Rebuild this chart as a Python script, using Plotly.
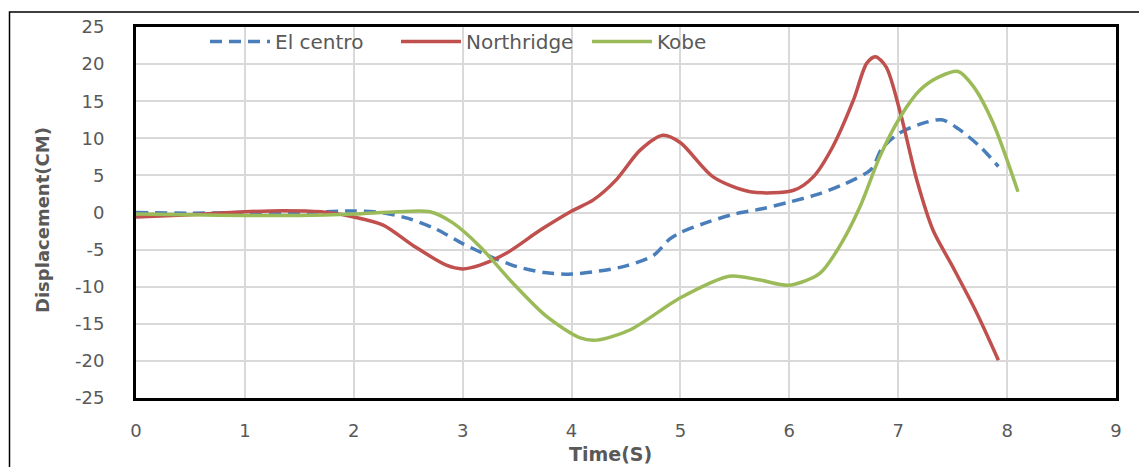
import plotly.graph_objects as go

# ---- data ----
t_elcentro = [0, 0.5, 1.0, 1.5, 2.0, 2.25, 2.5, 2.75, 3.0, 3.25, 3.5, 3.75, 4.0, 4.25, 4.5, 4.75,
              4.9, 5.0, 5.25, 5.5, 5.75, 6.0, 6.25, 6.5, 6.75, 6.85, 7.0, 7.2, 7.4, 7.55, 7.75, 7.92]
d_elcentro = [0, -0.1, 0, 0, 0.2, 0, -0.8, -2.2, -4.2, -5.9, -7.3, -8.1, -8.3, -7.9, -7.2, -5.8,
              -3.6, -2.7, -1.3, -0.2, 0.5, 1.4, 2.4, 3.8, 5.8, 8.6, 10.6, 11.9, 12.5, 11.3, 8.9, 6.2]

t_northridge = [0, 0.5, 1.0, 1.35, 1.7, 2.0, 2.27, 2.54, 2.85, 3.0, 3.16, 3.4, 3.71, 3.99, 4.2, 4.41,
                4.63, 4.84, 5.0, 5.3, 5.64, 6.04, 6.22, 6.4, 6.59, 6.71, 6.79, 6.89, 7.02, 7.17,
                7.32, 7.5, 7.72, 7.92]
d_northridge = [-0.6, -0.3, 0.1, 0.25, 0.1, -0.6, -1.7, -4.4, -7.1, -7.6, -7.1, -5.5, -2.4, 0.1, 1.7, 4.4,
                8.4, 10.4, 9.4, 4.8, 2.8, 3.0, 4.8, 8.9, 15.2, 20.1, 21.0, 19.6, 13.4, 4.4,
                -2.4, -7.3, -13.5, -19.9]

t_kobe = [0, 0.5, 1.0, 1.5, 2.0, 2.4, 2.7, 2.91, 3.16, 3.46, 3.77, 4.08, 4.23, 4.54, 5.0, 5.45,
          5.73, 6.0, 6.28, 6.46, 6.65, 6.83, 7.02, 7.2, 7.38, 7.55, 7.69, 7.87, 8.1]
d_kobe = [-0.2, -0.3, -0.4, -0.4, -0.2, 0.1, 0.1, -1.4, -4.6, -9.5, -14.0, -16.9, -17.2, -15.8, -11.5, -8.6,
          -9.1, -9.8, -8.2, -4.6, 0.8, 7.5, 12.9, 16.5, 18.3, 19.0, 17.0, 12.1, 2.8]

x_ticks = list(range(0, 10))
y_ticks = list(range(-25, 30, 5))
x_ticktext = [str(v) for v in x_ticks]
y_ticktext = [str(v) for v in y_ticks]

FONT = "DejaVu Sans"
GRAY = "#595959"

fig = go.Figure()
fig.add_trace(go.Scatter(x=t_elcentro, y=d_elcentro, mode="lines", name="El centro",
                         line=dict(color="#4a7ebb", width=3.5, dash="12px,7px", shape="spline", smoothing=0.8)))
fig.add_trace(go.Scatter(x=t_northridge, y=d_northridge, mode="lines", name="Northridge",
                         line=dict(color="#c0504d", width=3.5, shape="spline", smoothing=0.8)))
fig.add_trace(go.Scatter(x=t_kobe, y=d_kobe, mode="lines", name="Kobe",
                         line=dict(color="#9bbb59", width=3.5, shape="spline", smoothing=0.8)))

L, R, T, B = 136, 23, 27, 69
W, H = 1139, 467
pw, ph = W - L - R, H - T - B

def px_x(px):
    return (px - L) / pw

def px_y(py):
    return (H - B - py) / ph

fig.update_layout(
    width=W, height=H,
    margin=dict(l=L, r=R, t=T, b=B, pad=0),
    paper_bgcolor="white", plot_bgcolor="white",
    font=dict(family=FONT, color=GRAY, size=17),
    showlegend=True,
    legend=dict(orientation="h", x=px_x(205), y=px_y(22), xanchor="left", yanchor="top",
                bgcolor="rgba(0,0,0,0)", font=dict(size=20, color=GRAY, family=FONT),
                itemwidth=60, tracegroupgap=0, entrywidth=116, entrywidthmode="pixels"),
    xaxis=dict(range=[0, 9], tickvals=x_ticks, ticktext=x_ticktext, showgrid=True,
               gridcolor="#d9d9d9", gridwidth=1.5,
               showline=True, linecolor="black", linewidth=3, mirror=True, zeroline=False,
               ticks="", ticklabelstandoff=14, tickfont=dict(size=18, color=GRAY)),
    yaxis=dict(range=[-25, 25], tickvals=y_ticks, ticktext=y_ticktext, showgrid=True,
               gridcolor="#d9d9d9", gridwidth=1.5,
               showline=True, linecolor="black", linewidth=3, mirror=True, zeroline=False,
               ticks="", ticklabelstandoff=25, tickfont=dict(size=18, color=GRAY)),
    annotations=[
        dict(text="<b>Displacement(CM)</b>", xref="paper", yref="paper", x=px_x(42), y=px_y(220),
             showarrow=False, textangle=-90, font=dict(size=18, color=GRAY, family=FONT),
             xanchor="center", yanchor="middle"),
        dict(text="<b>Time(S)</b>", xref="paper", yref="paper", x=px_x(610), y=px_y(454),
             showarrow=False, font=dict(size=19, color=GRAY, family=FONT),
             xanchor="center", yanchor="middle"),
    ],
    shapes=[
        dict(type="rect", xref="paper", yref="paper", x0=px_x(9.5), x1=px_x(1160),
             y0=px_y(490), y1=px_y(12), line=dict(color="black", width=1.5), layer="above"),
    ],
)

fig.write_html("out.html")
